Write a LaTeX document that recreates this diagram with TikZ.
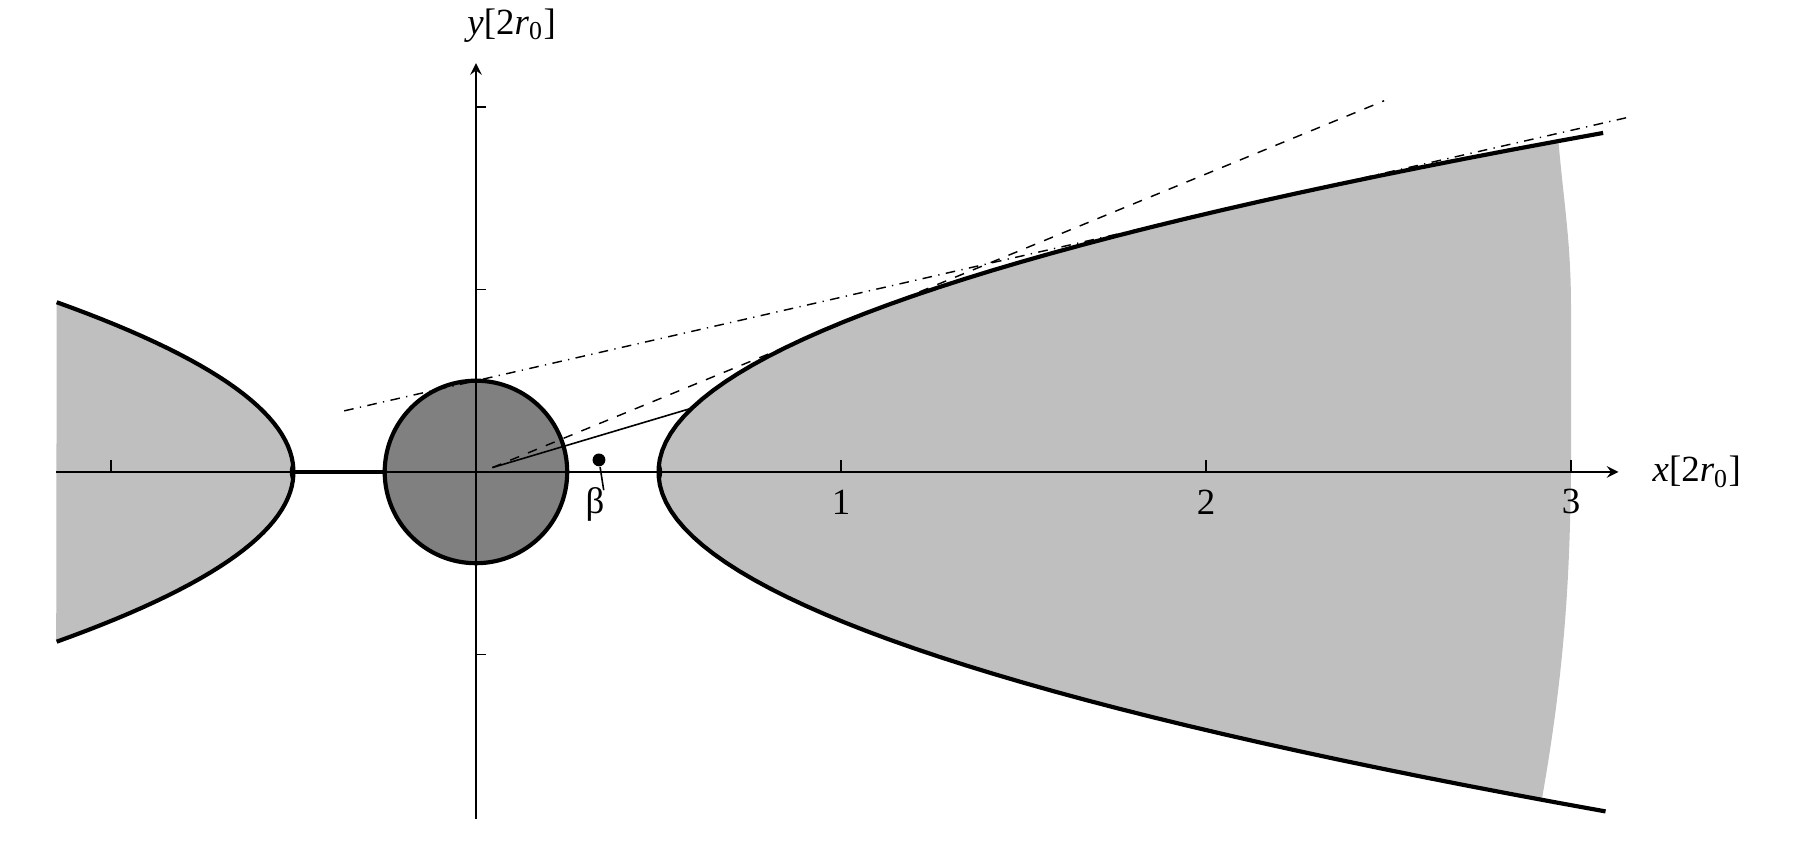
\documentclass[tikz,border=0pt]{standalone}
\usepackage{fontspec}
\setmainfont{Liberation Serif}
\usepackage{tikz}
\definecolor{lightgrey}{gray}{0.75}
\definecolor{coregrey}{gray}{0.5}
\tikzstyle{bound}=[line width=1.3pt,black]
\tikzstyle{axis}=[->,>=stealth,line width=0.6pt]
\tikzstyle{tick}=[line width=0.5pt]
\tikzstyle{core}=[shape=circle,draw,line width=1.3pt,fill=coregrey,minimum size=2cm,inner sep=0pt]
\tikzstyle{tangent}=[dashed,line width=0.45pt]
\tikzstyle{tangentdd}=[dash dot,line width=0.45pt]
\tikzstyle{lab}=[font=\fontsize{11.5}{13}\selectfont,inner sep=0pt]

\begin{document}
\begin{tikzpicture}[x=4cm,y=4cm]
        \useasboundingbox (-1.304,-1.022) rectangle (3.663,1.293);
        % shaded regions
        \fill[lightgrey] (-1.15,-0.465)
            -- plot[domain=-0.465:0.465,samples=60] ({-0.5-3*\x*\x},\x)
            -- cycle;
        \fill[lightgrey] plot[domain=-0.898:0.907,samples=80] ({0.5+3*\x*\x},\x)
            to[out=-85,in=90] (3.0,0.45)
            to[out=-90,in=80] (2.92,-0.898) -- cycle;
        % boundaries
        \draw[bound] plot[domain=-0.465:0.465,samples=60] ({-0.5-3*\x*\x},\x);
        \draw[bound] plot[domain=-0.93:0.93,samples=80] ({0.5+3*\x*\x},\x);
        \draw[bound] (-0.5,0) -- (-0.25,0);
        \fill (-0.503,0) ellipse (0.007 and 0.022);
        \fill (0.503,0) ellipse (0.007 and 0.022);
        \node[core] (C) at (0,0) {};
        % axes
        \coordinate (xs) at (-1.15,0);
        \coordinate (xe) at (3.13,0);
        \coordinate (ys) at (0,-0.95);
        \coordinate (ye) at (0,1.12);
        \draw[axis] (xs) -- (xe);
        \draw[axis] (ys) -- (ye);
        \foreach \t in {-1,1,2,3}
            \draw[tick] (\t,0) -- (\t,0.033);
        \foreach \t in {-0.5,0.5,1}
            \draw[tick] (0,\t) -- (0.028,\t);
        \node[lab] (l1) at (1,-0.082) {1};
        \node[lab] (l2) at (2,-0.082) {2};
        \node[lab] (l3) at (3,-0.082) {3};
        \node[lab,anchor=west] (xl) at (3.222,0) {\textit{x}[2\textit{r}\textsubscript{0}]};
        \node[lab,anchor=west] (yl) at (-0.025,1.224) {\textit{y}[2\textit{r}\textsubscript{0}]};
        % tangents
        \coordinate (O) at (0.045,0.012);
        \coordinate (A) at (-0.361,0.1674);
        \coordinate (B) at (3.163,0.973);
        \coordinate (D) at (2.488,1.017);
        \coordinate (P) at (0.592,0.175);
        \draw[tangentdd] (A) -- (B);
        \draw[tangent] (O) -- (D);
        \draw[line width=0.5pt] (O) -- (P);
        % beta
        \node[shape=circle,fill,inner sep=0pt,minimum size=4pt] (beta) at (0.337,0.033) {};
        \coordinate (bt) at (0.35,-0.05);
        \draw[line width=0.5pt] (beta) -- (bt);
        \node[lab] (bl) at (0.326,-0.090) {β};
\end{tikzpicture}
\end{document}
